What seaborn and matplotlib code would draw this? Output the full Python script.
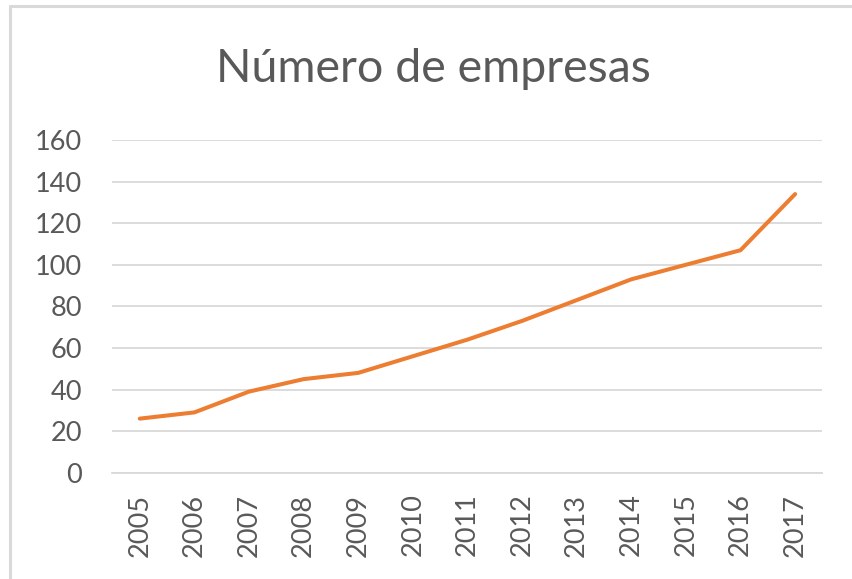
import pandas as pd
import matplotlib.pyplot as plt
import seaborn as sns
from matplotlib.lines import Line2D

years = ["2005", "2006", "2007", "2008", "2009", "2010", "2011",
         "2012", "2013", "2014", "2015", "2016", "2017"]
empresas = [26, 29, 39, 45, 48, 56, 64, 73, 83, 93, 100, 107, 134]
y_ticks = [0, 20, 40, 60, 80, 100, 120, 140, 160]

df = pd.DataFrame({"year": years, "empresas": empresas})

sns.set_style("white")
plt.rcParams['font.family'] = ['Lato', 'DejaVu Sans']

TEXT = "#595959"
GRID = "#d9d9d9"

fig = plt.figure(figsize=(8.52, 5.79), dpi=100)
ax = fig.add_axes([0.132, 0.1836, 0.8333, 0.5746])

sns.lineplot(data=df, x="year", y="empresas", color="#ED7D31", linewidth=2.9,
             ax=ax, sort=False)

ax.set_xlim(-0.5, len(years) - 0.5)
ax.set_ylim(0, 160)
ax.set_yticks(y_ticks)
ax.set_yticklabels([str(t) for t in y_ticks])
ax.yaxis.grid(True, color=GRID, linewidth=1.3)
ax.set_axisbelow(True)
for s in ["top", "right", "left"]:
    ax.spines[s].set_visible(False)
ax.spines["bottom"].set_color(GRID)
ax.spines["bottom"].set_linewidth(1.3)
ax.tick_params(axis="both", length=0, labelsize=19.5, colors=TEXT)
ax.tick_params(axis="y", pad=22)
ax.tick_params(axis="x", pad=15)
plt.setp(ax.get_xticklabels(), rotation=90)
ax.set_xlabel("")
ax.set_ylabel("")

fig.text(0.509, 0.859, "Número de empresas", ha="center", va="baseline",
         fontsize=33.5, color=TEXT)

# chart area border (only top and left edges show in the crop)
fig.add_artist(Line2D([0.0112, 0.0112], [0.0, 0.9905], transform=fig.transFigure,
                      color=GRID, linewidth=2.2))
fig.add_artist(Line2D([0.0112, 1.0], [0.9905, 0.9905], transform=fig.transFigure,
                      color=GRID, linewidth=2.2))

fig.savefig("out.png", dpi=100)
